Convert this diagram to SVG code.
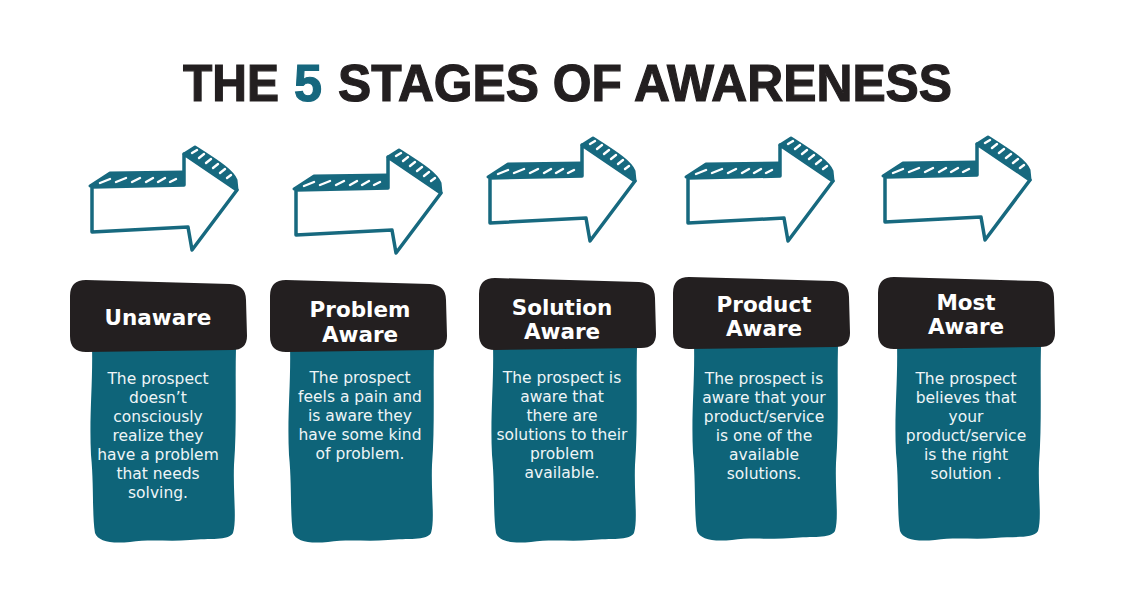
<svg xmlns="http://www.w3.org/2000/svg" xmlns:xlink="http://www.w3.org/1999/xlink" width="1136" height="606" viewBox="0 0 1136 606">
<style>
.title{font-family:"Liberation Sans",Arial,sans-serif;font-weight:900;font-size:52px;fill:#231f20;stroke:#231f20;stroke-width:1.2}
.five{fill:#16677e;stroke:#16677e}
.ol{fill:#fff;stroke:#17697f;stroke-width:3.5;stroke-linejoin:round;stroke-linecap:round}
.band{fill:#17697f;stroke:#17697f;stroke-width:3;stroke-linejoin:round}
.slit{stroke:#fff;stroke-width:2.4;stroke-linecap:round;fill:none}
.hdr{fill:#231f20}
.body{fill:#0e6479}
.h{font-family:"DejaVu Sans",sans-serif;font-weight:bold;font-size:21.5px;fill:#fff;text-anchor:middle}
.t{font-family:"DejaVu Sans",sans-serif;font-size:15.5px;fill:#eef5f7;text-anchor:middle}
</style>
<defs>
<g id="arrow">
<path class="band" d="M10,46 L30,33 L104,32 L104,45 Z"/>
<path class="slit" d="M20,43 L30,39 M36,42 L46,38 M52,42 L60,38 M66,42 L73,38 M78,42 L85,38 M90,42 L96,39"/>
<path class="band" d="M104,14 L115,7 C135,20 152,30 156,40 L157,50 Z"/>
<path class="slit" d="M112,13 L117,10 M119,18 L124,14 M126,23 L131,19 M133,28 L138,24 M140,33 L145,29 M147,38 L151,35"/>
<path class="ol" d="M12,47 L104,45 L104,14 L157,50 L112,110 L108,87 L12,92 Z"/>
</g>
<path id="hdr" d="M16,0 L160,4 Q176,5 176,20 L177,56 Q177,70 162,70 L16,72 Q0,72 0,56 L0,16 Q0,0 16,0 Z"/>
<path id="body" d="M2,0 L146,2 C145,40 147,80 144,120 C143,150 147,175 143,188 C138,196 120,193 100,195 C80,197 60,194 40,197 C20,199 8,196 5,188 C2,170 4,140 1,110 C-1,70 3,40 2,0 Z"/>
</defs>

<g id="title">
<text class="title" x="183" y="101" textLength="96" lengthAdjust="spacingAndGlyphs">THE</text>
<text class="title five" x="294" y="101" textLength="28" lengthAdjust="spacingAndGlyphs">5</text>
<text class="title" x="338" y="101" textLength="614" lengthAdjust="spacingAndGlyphs">STAGES OF AWARENESS</text>
</g>

<g id="arrows">
<use xlink:href="#arrow" href="#arrow" x="80" y="140"/>
<use xlink:href="#arrow" href="#arrow" x="284" y="143"/>
<use xlink:href="#arrow" href="#arrow" x="478" y="131"/>
<use xlink:href="#arrow" href="#arrow" x="676" y="131"/>
<use xlink:href="#arrow" href="#arrow" x="873" y="130"/>
</g>

<g id="card1">
<use class="body" xlink:href="#body" href="#body" x="90" y="345"/>
<use class="hdr" xlink:href="#hdr" href="#hdr" x="70" y="280"/>
<text class="h" x="158" y="325">Unaware</text>
<text class="t" x="158" y="384">The prospect</text>
<text class="t" x="158" y="403">doesn’t</text>
<text class="t" x="158" y="422">consciously</text>
<text class="t" x="158" y="441">realize they</text>
<text class="t" x="158" y="460">have a problem</text>
<text class="t" x="158" y="479">that needs</text>
<text class="t" x="158" y="498">solving.</text>
</g>

<g id="card2">
<use class="body" xlink:href="#body" href="#body" x="288" y="345"/>
<use class="hdr" xlink:href="#hdr" href="#hdr" x="270" y="280"/>
<text class="h" x="360" y="317">Problem</text>
<text class="h" x="360" y="342">Aware</text>
<text class="t" x="360" y="383">The prospect</text>
<text class="t" x="360" y="402">feels a pain and</text>
<text class="t" x="360" y="421">is aware they</text>
<text class="t" x="360" y="440">have some kind</text>
<text class="t" x="360" y="459">of problem.</text>
</g>

<g id="card3">
<use class="body" xlink:href="#body" href="#body" x="491" y="345"/>
<use class="hdr" xlink:href="#hdr" href="#hdr" x="479" y="278"/>
<text class="h" x="562" y="315">Solution</text>
<text class="h" x="562" y="339">Aware</text>
<text class="t" x="562" y="383">The prospect is</text>
<text class="t" x="562" y="402">aware that</text>
<text class="t" x="562" y="421">there are</text>
<text class="t" x="562" y="440">solutions to their</text>
<text class="t" x="562" y="459">problem</text>
<text class="t" x="562" y="478">available.</text>
</g>

<g id="card4">
<use class="body" xlink:href="#body" href="#body" x="692" y="343"/>
<use class="hdr" xlink:href="#hdr" href="#hdr" x="673" y="277"/>
<text class="h" x="764" y="312">Product</text>
<text class="h" x="764" y="336">Aware</text>
<text class="t" x="764" y="384">The prospect is</text>
<text class="t" x="764" y="403">aware that your</text>
<text class="t" x="764" y="422">product/service</text>
<text class="t" x="764" y="441">is one of the</text>
<text class="t" x="764" y="460">available</text>
<text class="t" x="764" y="479">solutions.</text>
</g>

<g id="card5">
<use class="body" xlink:href="#body" href="#body" x="895" y="343"/>
<use class="hdr" xlink:href="#hdr" href="#hdr" x="878" y="277"/>
<text class="h" x="966" y="310">Most</text>
<text class="h" x="966" y="334">Aware</text>
<text class="t" x="966" y="384">The prospect</text>
<text class="t" x="966" y="403">believes that</text>
<text class="t" x="966" y="422">your</text>
<text class="t" x="966" y="441">product/service</text>
<text class="t" x="966" y="460">is the right</text>
<text class="t" x="966" y="479">solution .</text>
</g>
</svg>
